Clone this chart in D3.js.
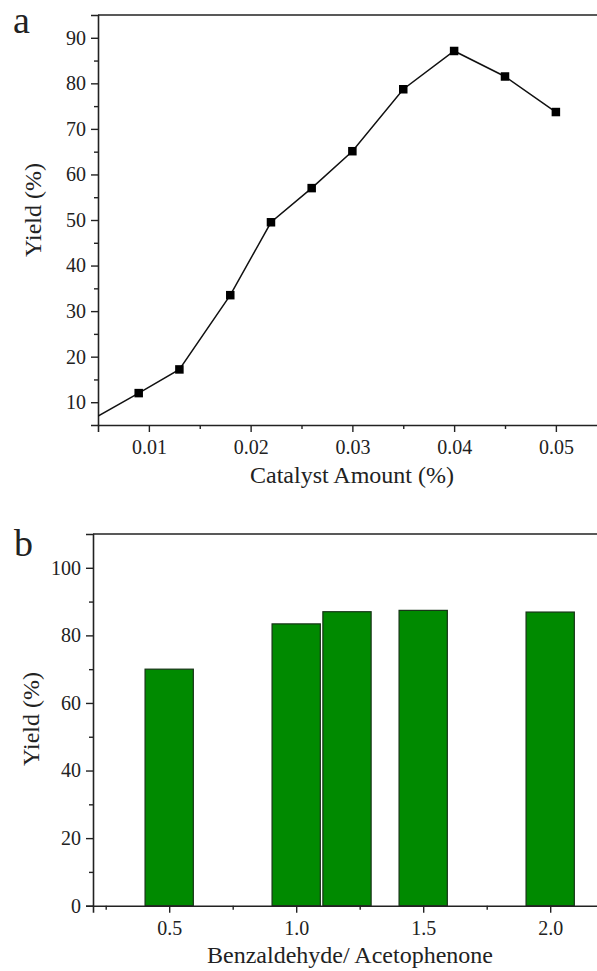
<!DOCTYPE html>
<html><head><meta charset="utf-8">
<script src="https://cdn.jsdelivr.net/npm/d3@7"></script>
<style>
body{margin:0;background:#fff;}
svg{display:block;}
text{font-family:"Liberation Serif","Times New Roman",serif;fill:#222;}
</style></head>
<body>
<script>
// ---- Panel a data ----
const catalystAmount = [0.004, 0.009, 0.013, 0.018, 0.022, 0.026, 0.030, 0.035, 0.040, 0.045, 0.050];
const yieldA = [5.7, 12.0, 17.2, 33.5, 49.5, 57.0, 65.1, 78.7, 87.1, 81.5, 73.7];
const xTicksA = [0.01, 0.02, 0.03, 0.04, 0.05];
const xMinorA = [0.015, 0.025, 0.035, 0.045];
const yTicksA = [10, 20, 30, 40, 50, 60, 70, 80, 90];
const yMinorA = [15, 25, 35, 45, 55, 65, 75, 85];

// ---- Panel b data ----
const ratioB = [0.5, 1.0, 1.2, 1.5, 2.0];
const yieldB = [70.0, 83.4, 87.0, 87.4, 86.9];
const barWidthB = 0.19;
const xTicksB = [0.5, 1.0, 1.5, 2.0];
const xMinorB = [0.25, 0.75, 1.25, 1.75];
const yTicksB = [0, 20, 40, 60, 80, 100];
const yMinorB = [10, 30, 50, 70, 90];

const W = 597, H = 971;
const svg = d3.select("body").append("svg").attr("width", W).attr("height", H);
const axisColor = "#222";

function styleAxis(g){
  g.select(".domain").attr("stroke", axisColor).attr("stroke-width", 1.6);
  g.selectAll(".tick line").attr("stroke", axisColor).attr("stroke-width", 1.4);
  g.selectAll(".tick text").attr("font-family", "Liberation Serif, serif").attr("font-size", 20).attr("fill", "#222");
}

// ================= Panel a =================
{
  const L = 98, T = 15, B = 425;
  const x = d3.scaleLinear().domain([0.005, 0.055]).range([L, L + 0.05 * 10175]);
  const y = d3.scaleLinear().domain([5, 95]).range([B, T]);
  const g = svg.append("g");

  svg.append("clipPath").attr("id", "clipA").append("rect")
    .attr("x", L).attr("y", T).attr("width", x.range()[1] - L).attr("height", B - T);

  g.append("line").attr("x1", L).attr("x2", x.range()[1]).attr("y1", T).attr("y2", T)
    .attr("stroke", axisColor).attr("stroke-width", 1.6);

  const xa = g.append("g").attr("transform", `translate(0,${B})`)
    .call(d3.axisBottom(x).tickValues(xTicksA).tickSize(7).tickPadding(8).tickFormat(d3.format(".2f")));
  styleAxis(xa);
  const xm = g.append("g").attr("transform", `translate(0,${B})`)
    .call(d3.axisBottom(x).tickValues(xMinorA).tickSize(4).tickFormat(""));
  styleAxis(xm); xm.select(".domain").remove();

  const ya = g.append("g").attr("transform", `translate(${L},0)`)
    .call(d3.axisLeft(y).tickValues(yTicksA).tickSize(7).tickPadding(5));
  styleAxis(ya);
  const ym = g.append("g").attr("transform", `translate(${L},0)`)
    .call(d3.axisLeft(y).tickValues(yMinorA).tickSize(4).tickFormat(""));
  styleAxis(ym); ym.select(".domain").remove();

  const pts = catalystAmount.map((c, i) => [c, yieldA[i]]);
  const plot = g.append("g").attr("clip-path", "url(#clipA)");
  plot.append("path").datum(pts)
    .attr("d", d3.line().x(d => x(d[0])).y(d => y(d[1])))
    .attr("fill", "none").attr("stroke", "#111").attr("stroke-width", 1.5);
  const s = 8.5;
  plot.selectAll("rect.m").data(pts).enter().append("rect").attr("class", "m")
    .attr("x", d => x(d[0]) - s / 2).attr("y", d => y(d[1]) - s / 2)
    .attr("width", s).attr("height", s).attr("fill", "#000");

  g.append("text").attr("x", 352).attr("y", 483).attr("text-anchor", "middle")
    .attr("font-size", 24).text("Catalyst Amount (%)");
  g.append("text").attr("transform", `translate(41,210) rotate(-90)`)
    .attr("text-anchor", "middle").attr("font-size", 24).text("Yield (%)");
  g.append("text").attr("x", 13).attr("y", 33).attr("font-size", 38).attr("fill", "#111").text("a");
}

// ================= Panel b =================
{
  const L = 93, T = 534, B = 905.7;
  const x = d3.scaleLinear().domain([0.2, 2.2]).range([L, L + 2 * 254]);
  const y = d3.scaleLinear().domain([0, 110]).range([B, T]);
  const g = svg.append("g");

  g.append("line").attr("x1", L).attr("x2", x.range()[1]).attr("y1", T).attr("y2", T)
    .attr("stroke", axisColor).attr("stroke-width", 1.6);

  g.selectAll("rect.bar").data(ratioB.map((r, i) => [r, yieldB[i]])).enter().append("rect")
    .attr("class", "bar")
    .attr("x", d => x(d[0] - barWidthB / 2)).attr("width", d => x(d[0] + barWidthB / 2) - x(d[0] - barWidthB / 2))
    .attr("y", d => y(d[1])).attr("height", d => y(0) - y(d[1]))
    .attr("fill", "#008a00").attr("stroke", "#163316").attr("stroke-width", 1.2);

  const xa = g.append("g").attr("transform", `translate(0,${B})`)
    .call(d3.axisBottom(x).tickValues(xTicksB).tickSize(7).tickPadding(8).tickFormat(d3.format(".1f")));
  styleAxis(xa);
  const xm = g.append("g").attr("transform", `translate(0,${B})`)
    .call(d3.axisBottom(x).tickValues(xMinorB).tickSize(4).tickFormat(""));
  styleAxis(xm); xm.select(".domain").remove();

  const ya = g.append("g").attr("transform", `translate(${L},0)`)
    .call(d3.axisLeft(y).tickValues(yTicksB).tickSize(7).tickPadding(5));
  styleAxis(ya);
  const ym = g.append("g").attr("transform", `translate(${L},0)`)
    .call(d3.axisLeft(y).tickValues(yMinorB).tickSize(4).tickFormat(""));
  styleAxis(ym); ym.select(".domain").remove();

  g.append("text").attr("x", 350).attr("y", 963).attr("text-anchor", "middle")
    .attr("font-size", 24).text("Benzaldehyde/ Acetophenone");
  g.append("text").attr("transform", `translate(39,719) rotate(-90)`)
    .attr("text-anchor", "middle").attr("font-size", 24).text("Yield (%)");
  g.append("text").attr("x", 14).attr("y", 556).attr("font-size", 38).attr("fill", "#111").text("b");
}
</script>
</body></html>
